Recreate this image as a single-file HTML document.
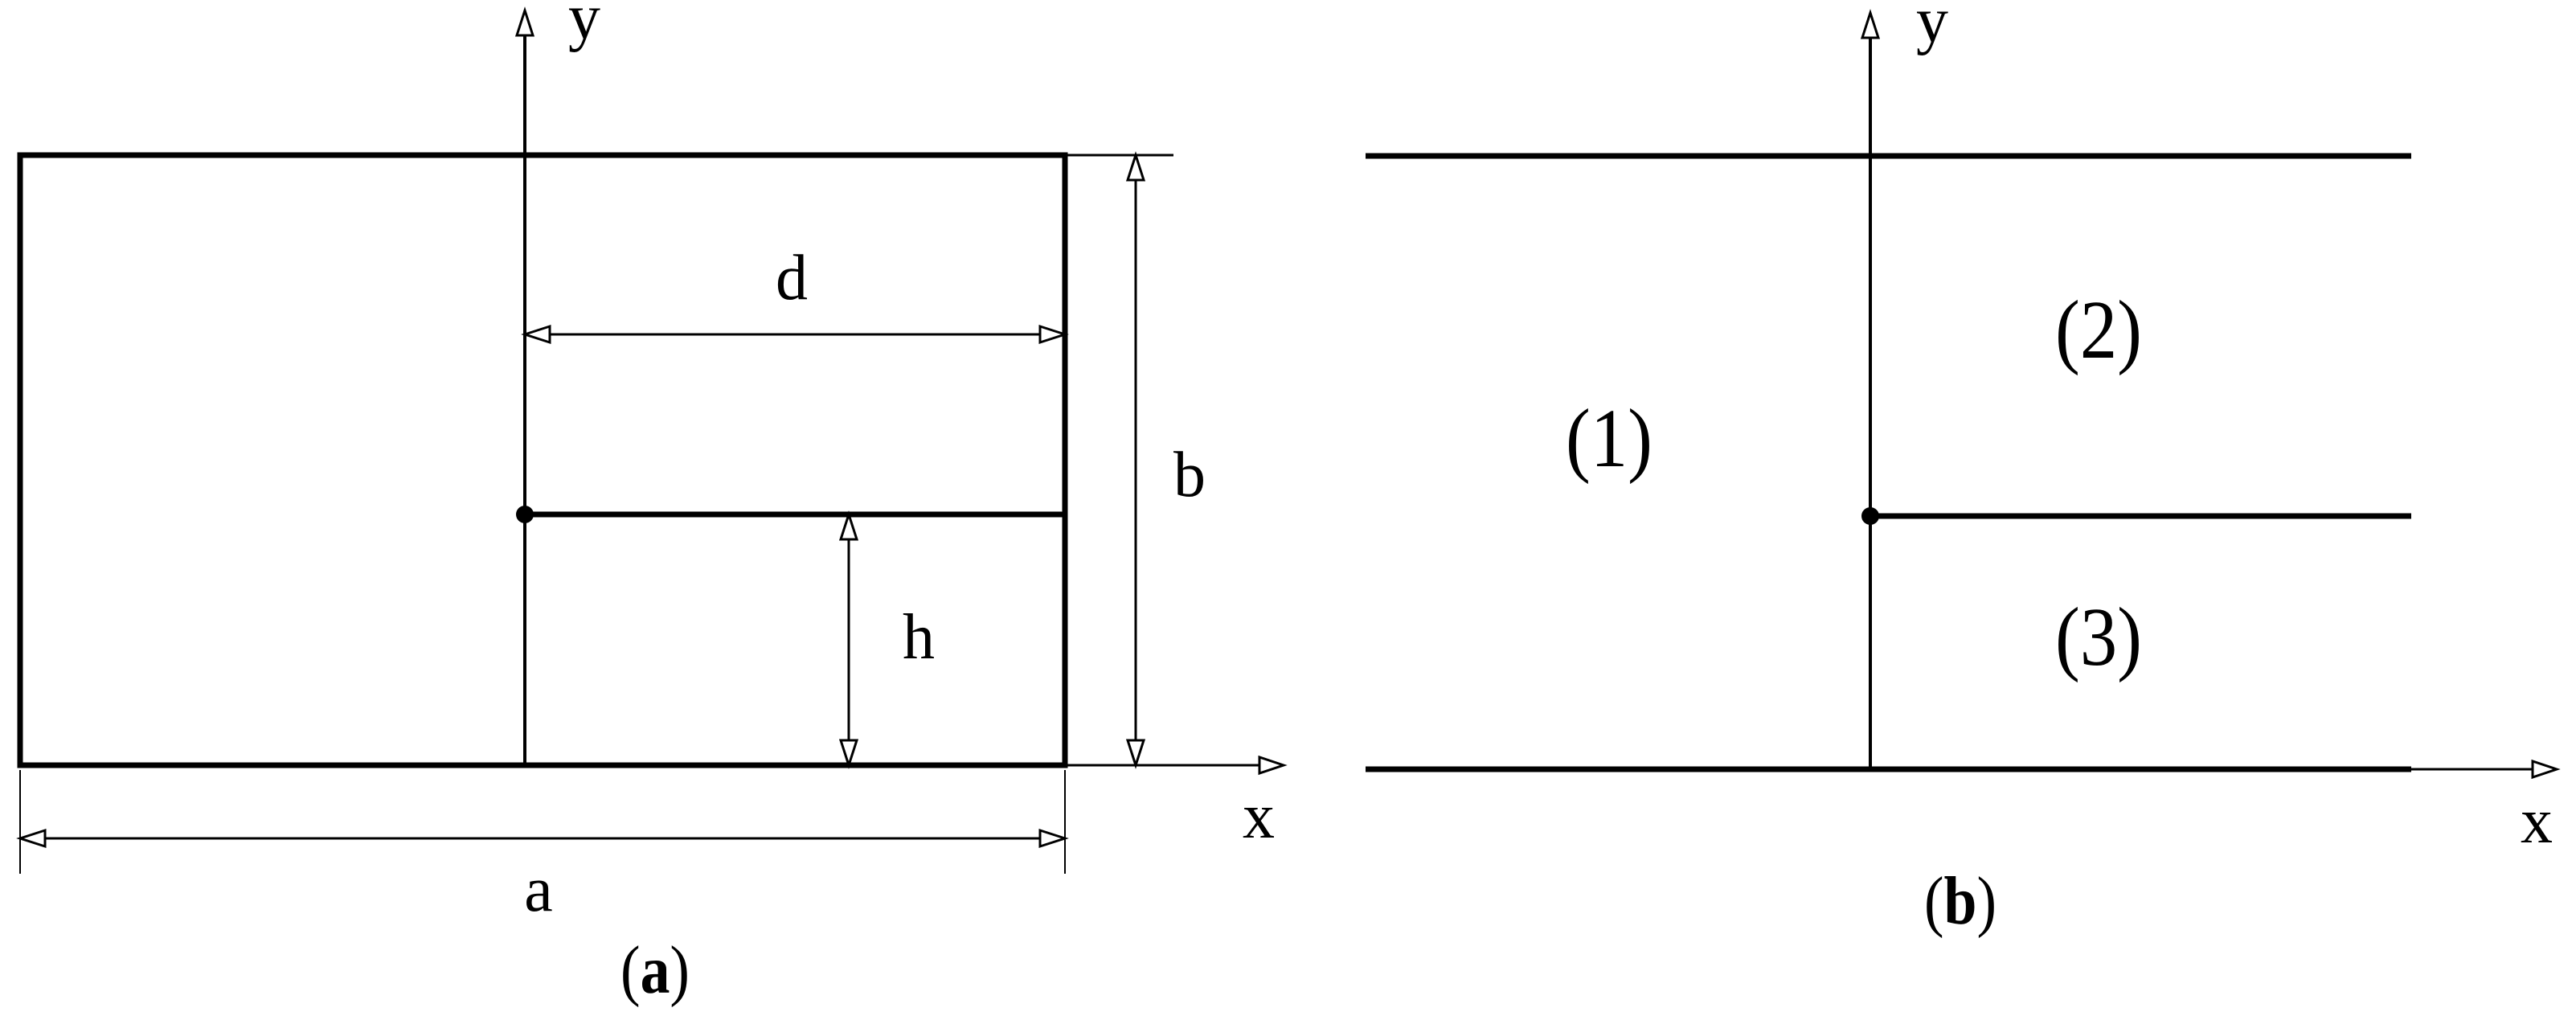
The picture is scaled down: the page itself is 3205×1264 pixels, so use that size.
<!DOCTYPE html>
<html><head><meta charset="utf-8"><style>
html,body{margin:0;padding:0;background:#fff;}
svg{display:block;}
text{font-family:"Liberation Serif",serif;fill:#000;}
</style></head><body>
<svg width="3205" height="1264" viewBox="0 0 3205 1264" xmlns="http://www.w3.org/2000/svg">
<g stroke="#000" fill="none" stroke-linecap="butt">
<!-- Panel a -->
<rect x="25" y="193" width="1300" height="759" stroke-width="7"/>
<line x1="653" y1="44" x2="653" y2="952" stroke-width="4"/>
<line x1="653" y1="640" x2="1325" y2="640" stroke-width="7"/>
<line x1="1325" y1="193" x2="1460" y2="193" stroke-width="3"/>
<line x1="1325" y1="952" x2="1567" y2="952" stroke-width="3"/>
<line x1="684" y1="416" x2="1294" y2="416" stroke-width="3"/>
<line x1="1056" y1="671" x2="1056" y2="921" stroke-width="3"/>
<line x1="1413" y1="224" x2="1413" y2="921" stroke-width="3"/>
<line x1="56" y1="1043" x2="1294" y2="1043" stroke-width="3"/>
<line x1="25" y1="958" x2="25" y2="1087" stroke-width="2"/>
<line x1="1325" y1="958" x2="1325" y2="1087" stroke-width="2"/>
<g stroke-width="3" fill="#fff">
<polygon points="653,13 643,44 663,44"/>
<polygon points="1597,952 1567,942 1567,962"/>
<polygon points="653,416 684,406 684,426"/>
<polygon points="1325,416 1294,406 1294,426"/>
<polygon points="1056,640 1046,671 1066,671"/>
<polygon points="1056,952 1046,921 1066,921"/>
<polygon points="1413,193 1403,224 1423,224"/>
<polygon points="1413,952 1403,921 1423,921"/>
<polygon points="25,1043 56,1033 56,1053"/>
<polygon points="1325,1043 1294,1033 1294,1053"/>
</g>
<!-- Panel b -->
<line x1="1699" y1="194" x2="3000" y2="194" stroke-width="7"/>
<line x1="1699" y1="957" x2="3000" y2="957" stroke-width="7"/>
<line x1="2327" y1="47" x2="2327" y2="957" stroke-width="4"/>
<line x1="2327" y1="642" x2="3000" y2="642" stroke-width="7"/>
<line x1="3000" y1="957" x2="3151" y2="957" stroke-width="3"/>
<g stroke-width="3" fill="#fff">
<polygon points="2327,16 2317,47 2337,47"/>
<polygon points="3181,957 3151,947 3151,967"/>
</g>
</g>
<circle cx="653" cy="640" r="11" fill="#000"/>
<circle cx="2327" cy="642" r="11" fill="#000"/>
<g text-anchor="middle" font-size="80">
<text x="727" y="48">y</text>
<text x="985" y="372">d</text>
<text x="1480" y="617">b</text>
<text x="1143" y="819">h</text>
<text x="1566" y="1042">x</text>
<text x="670" y="1133">a</text>
<text x="2404" y="52">y</text>
<text x="3156" y="1048">x</text>
</g>
<g text-anchor="middle" font-size="104">
<text x="2611" y="445" textLength="108" lengthAdjust="spacingAndGlyphs">(2)</text>
<text x="2002" y="580" textLength="108" lengthAdjust="spacingAndGlyphs">(1)</text>
<text x="2611" y="827" textLength="108" lengthAdjust="spacingAndGlyphs">(3)</text>
</g>
<g text-anchor="middle" font-size="85">
<text x="815" y="1235" textLength="86" lengthAdjust="spacingAndGlyphs">(<tspan font-weight="bold">a</tspan>)</text>
<text x="2439" y="1149" textLength="90" lengthAdjust="spacingAndGlyphs">(<tspan font-weight="bold">b</tspan>)</text>
</g>
</svg>
</body></html>
